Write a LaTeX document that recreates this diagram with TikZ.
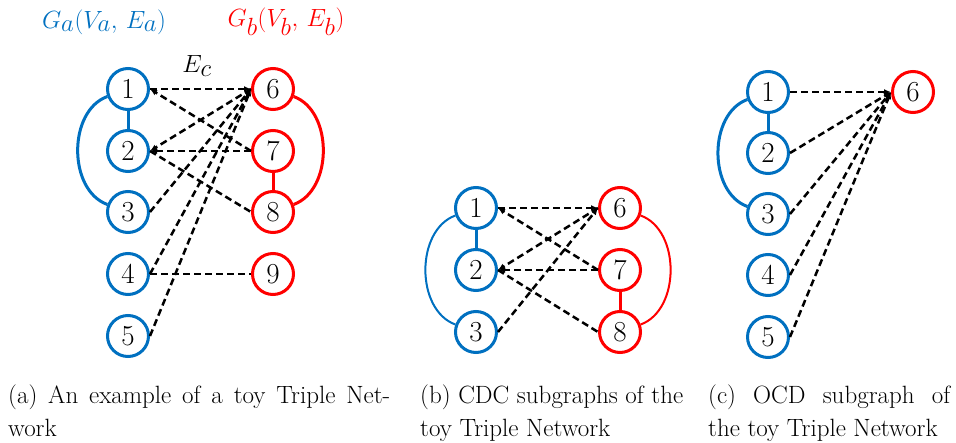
\documentclass[tikz,border=0pt]{standalone}
\usetikzlibrary{arrows.meta}
\definecolor{nblue}{HTML}{0070C0}
\definecolor{nred}{HTML}{FF0000}
\tikzset{
  vb/.style={circle,draw=nblue,line width=3pt,minimum size=41pt,inner sep=0pt,font=\fontsize{29}{29}\selectfont},
  vr/.style={circle,draw=nred,line width=3pt,minimum size=41pt,inner sep=0pt,font=\fontsize{29}{29}\selectfont},
  be/.style={draw=nblue,line width=3pt},
  re/.style={draw=nred,line width=3pt},
  ce/.style={draw=black,line width=2.5pt,dash pattern=on 7pt off 4pt},
  tip/.style={-{Latex[length=7pt,width=6pt]}},
  captext/.style={anchor=north west,inner sep=0pt,align=justify,font=\fontsize{25}{33}\selectfont},
  biglabel/.style={font=\fontsize{35}{35}\selectfont},
}
\begin{document}
\begin{tikzpicture}[x=1pt,y=-1pt]
\useasboundingbox (0,0) rectangle (956,442);
% ---------- panel (a)
\node[biglabel,text=nblue] (ga) at (104,22) {$G_{a}(V_{a},\,E_{a})$};
\node[biglabel,text=nred] (gb) at (286,22) {$G_{b}(V_{b},\,E_{b})$};
\node[biglabel] (ec) at (197,66) {$E_{c}$};
\node[vb] (a1) at (128,89) {1};
\node[vb] (a2) at (128,151) {2};
\node[vb] (a3) at (128,212) {3};
\node[vb] (a4) at (128,274) {4};
\node[vb] (a5) at (128,336) {5};
\node[vr] (a6) at (273,89) {6};
\node[vr] (a7) at (273,151) {7};
\node[vr] (a8) at (273,212) {8};
\node[vr] (a9) at (273,274) {9};
\draw[be] (a1) -- (a2);
\draw[be] (a1.200) to[out=200,in=160,looseness=1.0] (a3.160);
\draw[re] (a7) -- (a8);
\draw[re] (a6.-20) to[out=-20,in=20,looseness=1.0] (a8.20);
\draw[ce,tip] (a1.east) -- (a6.west);
\draw[ce,tip] (a7.west) -- (a1.east);
\draw[ce,tip] (a6.west) -- (a2.east);
\draw[ce,tip] (a7.west) -- (a2.east);
\draw[ce] (a2.east) -- (a8.west);
\draw[ce,tip] (a3.east) -- (a6.west);
\draw[ce,tip] (a4.east) -- (a6.west);
\draw[ce] (a4.east) -- (a9.west);
\draw[ce,tip] (a5.east) -- (a6.west);
% ---------- panel (b)
\node[vb] (b1) at (476,208) {1};
\node[vb] (b2) at (476,270) {2};
\node[vb] (b3) at (476,332) {3};
\node[vr] (b6) at (620,208) {6};
\node[vr] (b7) at (620,270) {7};
\node[vr] (b8) at (620,332) {8};
\draw[be] (b1) -- (b2);
\draw[draw=nblue,line width=2pt] (b1.200) to[out=200,in=160,looseness=1.0] (b3.160);
\draw[re] (b7) -- (b8);
\draw[draw=nred,line width=2pt] (b6.-20) to[out=-20,in=20,looseness=1.0] (b8.20);
\draw[ce,tip] (b1.east) -- (b6.west);
\draw[ce,tip] (b7.west) -- (b1.east);
\draw[ce,tip] (b6.west) -- (b2.east);
\draw[ce,tip] (b7.west) -- (b2.east);
\draw[ce] (b2.east) -- (b8.west);
\draw[ce,tip] (b3.east) -- (b6.west);
% ---------- panel (c)
\node[vb] (c1) at (768,92) {1};
\node[vb] (c2) at (768,153) {2};
\node[vb] (c3) at (768,214) {3};
\node[vb] (c4) at (768,275) {4};
\node[vb] (c5) at (768,337) {5};
\node[vr] (c6) at (913,92) {6};
\draw[be] (c1) -- (c2);
\draw[be] (c1.200) to[out=200,in=160,looseness=1.0] (c3.160);
\foreach \i in {1,...,5} {\draw[ce,tip] (c\i.east) -- (c6.west);}
% ---------- captions
\node[captext,text width=382pt] (capa) at (8,385) {(a) An example of a toy Triple Net-\linebreak work};
\node[captext,text width=263pt] (capb) at (420,385) {(b) CDC subgraphs of the\linebreak toy Triple Network};
\node[captext,text width=242pt] (capc) at (708,385) {(c) OCD subgraph of\linebreak the toy Triple Network};
\end{tikzpicture}
\end{document}
